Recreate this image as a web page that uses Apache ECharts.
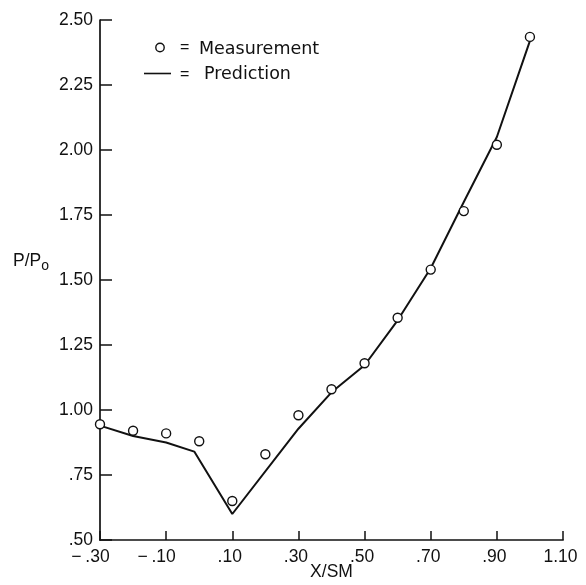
<!DOCTYPE html>
<html>
<head>
<meta charset="utf-8">
<title>P/Po vs X/SM</title>
<script src="https://cdn.jsdelivr.net/npm/echarts@6/dist/echarts.min.js"></script>
<style>
  html, body { margin: 0; padding: 0; background: #fff; }
  #chart { width: 586px; height: 585px; }
</style>
</head>
<body>
<div id="chart"></div>
<script>
// Measured pressure ratio (open circles)
const measX = [-0.30, -0.20, -0.10, 0.00, 0.10, 0.20, 0.30, 0.40, 0.50, 0.60, 0.70, 0.80, 0.90, 1.00];
const measY = [0.945, 0.92, 0.91, 0.88, 0.65, 0.83, 0.98, 1.08, 1.18, 1.355, 1.54, 1.765, 2.02, 2.435];

// Predicted pressure ratio (solid line)
const predX = [-0.30, -0.20, -0.10, -0.015, 0.10, 0.30, 0.40, 0.50, 0.60, 0.70, 0.80, 0.90, 1.00];
const predY = [0.94, 0.90, 0.875, 0.84, 0.60, 0.928, 1.068, 1.172, 1.345, 1.545, 1.80, 2.05, 2.42];

// Axis ranges and tick labels
const xMin = -0.30, xMax = 1.10, xStep = 0.20;
const yMin = 0.50, yMax = 2.50, yStep = 0.25;
const xTickLabels = ['−.30', '−.10', '.10', '.30', '.50', '.70', '.90', '1.10'];
const yTickLabels = ['.50', '.75', '1.00', '1.25', '1.50', '1.75', '2.00', '2.25', '2.50'];

const INK = '#111';
const FONT = '"Liberation Sans", Arial, Helvetica, sans-serif';
const LEGEND_FONT = '"DejaVu Sans", "Liberation Sans", sans-serif';
const FS = 17.5;

const tok = (extra) => Object.assign({ fontSize: FS, fontFamily: FONT, color: INK }, extra || {});

const chart = echarts.init(document.getElementById('chart'), null, { renderer: 'canvas' });

chart.setOption({
  animation: false,
  backgroundColor: '#fff',
  grid: { left: 100, right: 23, top: 20, bottom: 45, outerBoundsMode: 'none' },
  xAxis: {
    type: 'value',
    min: xMin, max: xMax, interval: xStep,
    splitLine: { show: false },
    axisLine: { show: true, onZero: false, lineStyle: { color: INK, width: 1.7 } },
    axisTick: { show: true, inside: true, length: 9, lineStyle: { color: INK, width: 1.5 } },
    axisLabel: {
      margin: 8,
      color: INK, fontSize: FS, fontFamily: FONT,
      formatter: function (v) {
        const lbl = xTickLabels[Math.round((v - xMin) / xStep)] || '';
        if (lbl.charAt(0) === '−') {
          return '{m|−}{t|' + lbl.slice(1) + '}{q| }';
        }
        return '{t|' + lbl + '}{p| }';
      },
      rich: {
        t: tok(),
        m: tok({ width: 14, align: 'left' }),
        p: tok({ width: 5 }),
        q: tok({ width: 19 })
      }
    },
    name: 'X/SM',
    nameLocation: 'middle',
    nameGap: 23,
    nameMoveOverlap: false,
    nameTextStyle: { color: INK, fontSize: FS, fontFamily: FONT }
  },
  yAxis: {
    type: 'value',
    min: yMin, max: yMax, interval: yStep,
    splitLine: { show: false },
    axisLine: { show: true, onZero: false, lineStyle: { color: INK, width: 1.7 } },
    axisTick: { show: true, inside: true, length: 12, lineStyle: { color: INK, width: 1.5 } },
    axisLabel: {
      margin: 7,
      color: INK, fontSize: FS, fontFamily: FONT,
      formatter: function (v) {
        return yTickLabels[Math.round((v - yMin) / yStep)] || '';
      }
    }
  },
  graphic: [
    // y-axis title with subscript
    {
      type: 'text', left: 13, top: 252,
      style: {
        text: '{a|P/P}{b|o}',
        rich: {
          a: { fontSize: FS, fontFamily: FONT, fill: INK },
          b: { fontSize: 14, fontFamily: FONT, fill: INK, padding: [11, 0, 0, 0] }
        }
      }
    },
    // key: measurement symbol
    { type: 'circle', shape: { cx: 160, cy: 47.5, r: 4.2 }, style: { fill: '#fff', stroke: INK, lineWidth: 1.4 } },
    { type: 'text', x: 180, y: 48, style: { text: '=', fontSize: 16, fontFamily: FONT, fill: INK, align: 'left', verticalAlign: 'middle' } },
    { type: 'text', x: 199, y: 49.5, style: { text: 'Measurement', fontSize: FS, fontFamily: LEGEND_FONT, fill: INK, align: 'left', verticalAlign: 'middle' } },
    // key: prediction line
    { type: 'line', shape: { x1: 144, y1: 73.5, x2: 171, y2: 73.5 }, style: { stroke: INK, lineWidth: 1.6 } },
    { type: 'text', x: 180, y: 75, style: { text: '=', fontSize: 16, fontFamily: FONT, fill: INK, align: 'left', verticalAlign: 'middle' } },
    { type: 'text', x: 204, y: 74, style: { text: 'Prediction', fontSize: FS, fontFamily: LEGEND_FONT, fill: INK, align: 'left', verticalAlign: 'middle' } }
  ],
  series: [
    {
      name: 'Prediction',
      type: 'line',
      data: predX.map((x, i) => [x, predY[i]]),
      showSymbol: false,
      symbol: 'none',
      lineStyle: { color: INK, width: 2 },
      z: 2
    },
    {
      name: 'Measurement',
      type: 'scatter',
      data: measX.map((x, i) => [x, measY[i]]),
      symbol: 'circle',
      symbolSize: 9,
      itemStyle: { color: '#fff', borderColor: INK, borderWidth: 1.4, opacity: 1 },
      z: 3
    }
  ]
});
</script>
</body>
</html>
